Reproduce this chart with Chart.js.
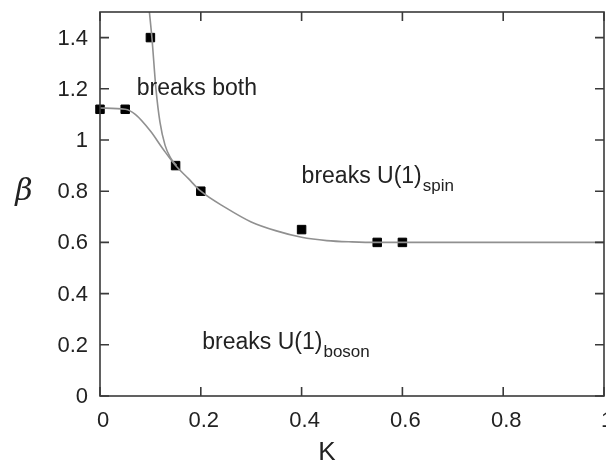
<!DOCTYPE html>
<html>
<head>
<meta charset="utf-8">
<script src="https://cdn.jsdelivr.net/npm/chart.js@4/dist/chart.umd.min.js"></script>
<style>
  html, body { margin: 0; padding: 0; background: #fff; overflow: hidden; }
  #wrap { width: 606px; height: 467px; }
  canvas { display: block; }
</style>
</head>
<body>
<div id="wrap"><canvas id="phase" width="606" height="467"></canvas></div>
<script>
// measured points (squares)
const pointK = [0, 0.05, 0.1, 0.15, 0.2, 0.4, 0.55, 0.6];
const pointBeta = [1.12, 1.12, 1.4, 0.9, 0.8, 0.65, 0.6, 0.6];

// lower phase boundary
const lowerK = [0, 0.05, 0.07, 0.1, 0.125, 0.15, 0.175, 0.2, 0.25, 0.3, 0.35, 0.4, 0.45, 0.5, 0.55, 0.6, 1.0];
const lowerBeta = [1.125, 1.12, 1.1, 1.035, 0.965, 0.9, 0.85, 0.8, 0.735, 0.68, 0.645, 0.62, 0.607, 0.602, 0.6, 0.6, 0.6];

// steep boundary from the top
const steepK = [0.098, 0.103, 0.111, 0.119, 0.129, 0.14, 0.152];
const steepBeta = [1.5, 1.4, 1.2, 1.07, 0.98, 0.93, 0.9];

// tick labels
const xTicks = [0, 0.2, 0.4, 0.6, 0.8, 1];
const yTicks = [0, 0.2, 0.4, 0.6, 0.8, 1, 1.2, 1.4];

function toXY(xs, ys) {
  return xs.map(function(x, i) { return { x: x, y: ys[i] }; });
}

const FONT = '"Liberation Sans", Arial, sans-serif';
const fmt = function(v) { return String(Number(v.toFixed(1))); };

// frame, inward ticks, labels and region texts, gnuplot style
const framePlugin = {
  id: 'frame',
  afterDraw: function(chart) {
    const ctx = chart.ctx;
    const a = chart.chartArea;
    const xs = chart.scales.x;
    const ys = chart.scales.y;
    ctx.save();
    ctx.strokeStyle = '#3a3a3a';
    ctx.lineWidth = 1.6;
    ctx.strokeRect(a.left, a.top, a.right - a.left, a.bottom - a.top);

    ctx.beginPath();
    xTicks.forEach(function(v) {
      const px = xs.getPixelForValue(v);
      ctx.moveTo(px, a.bottom); ctx.lineTo(px, a.bottom - 9);
      ctx.moveTo(px, a.top); ctx.lineTo(px, a.top + 9);
    });
    yTicks.forEach(function(v) {
      const py = ys.getPixelForValue(v);
      ctx.moveTo(a.left, py); ctx.lineTo(a.left + 9, py);
      ctx.moveTo(a.right, py); ctx.lineTo(a.right - 9, py);
    });
    ctx.stroke();

    ctx.fillStyle = '#222';
    ctx.font = '22px ' + FONT;
    ctx.textBaseline = 'middle';
    ctx.textAlign = 'center';
    xTicks.forEach(function(v) {
      ctx.fillText(fmt(v), xs.getPixelForValue(v) + 3, a.bottom + 25);
    });
    ctx.textAlign = 'right';
    yTicks.forEach(function(v) {
      ctx.fillText(fmt(v), a.left - 12, ys.getPixelForValue(v) + 1);
    });

    // axis titles
    ctx.textAlign = 'center';
    ctx.font = '26px ' + FONT;
    ctx.fillText('K', xs.getPixelForValue(0.45), a.bottom + 57);
    ctx.font = 'italic 30px "DejaVu Serif", serif';
    ctx.fillText('\u03b2', 24, ys.getPixelForValue(0.8) + 1);

    // region labels
    ctx.textAlign = 'left';
    function label(main, sub, k, b) {
      const px = xs.getPixelForValue(k);
      const py = ys.getPixelForValue(b);
      ctx.font = '23px ' + FONT;
      ctx.fillText(main, px, py);
      if (sub) {
        const w = ctx.measureText(main).width;
        ctx.font = '17px ' + FONT;
        ctx.fillText(sub, px + w + 1, py + 9);
      }
    }
    label('breaks both', null, 0.073, 1.2);
    label('breaks U(1)', 'spin', 0.4, 0.856);
    label('breaks U(1)', 'boson', 0.203, 0.207);
    ctx.restore();
  }
};

new Chart(document.getElementById('phase'), {
  type: 'scatter',
  data: {
    datasets: [
      {
        label: 'lower',
        data: toXY(lowerK, lowerBeta),
        showLine: true,
        borderColor: '#909090',
        borderWidth: 1.6,
        pointRadius: 0,
        cubicInterpolationMode: 'monotone'
      },
      {
        label: 'steep',
        data: toXY(steepK, steepBeta),
        showLine: true,
        borderColor: '#909090',
        borderWidth: 1.6,
        pointRadius: 0,
        cubicInterpolationMode: 'monotone'
      },
      {
        label: 'points',
        data: toXY(pointK, pointBeta),
        showLine: false,
        clip: false,
        pointStyle: 'rect',
        pointRadius: 6,
        backgroundColor: '#000',
        borderColor: '#000',
        borderWidth: 1
      }
    ]
  },
  options: {
    responsive: false,
    animation: false,
    layout: {
      autoPadding: false,
      padding: { left: 100, right: 2, top: 12, bottom: 71 }
    },
    plugins: {
      legend: { display: false },
      tooltip: { enabled: false }
    },
    scales: {
      x: {
        type: 'linear',
        display: false,
        min: 0,
        max: 1
      },
      y: {
        type: 'linear',
        display: false,
        min: 0,
        max: 1.5
      }
    }
  },
  plugins: [framePlugin]
});
</script>
</body>
</html>
